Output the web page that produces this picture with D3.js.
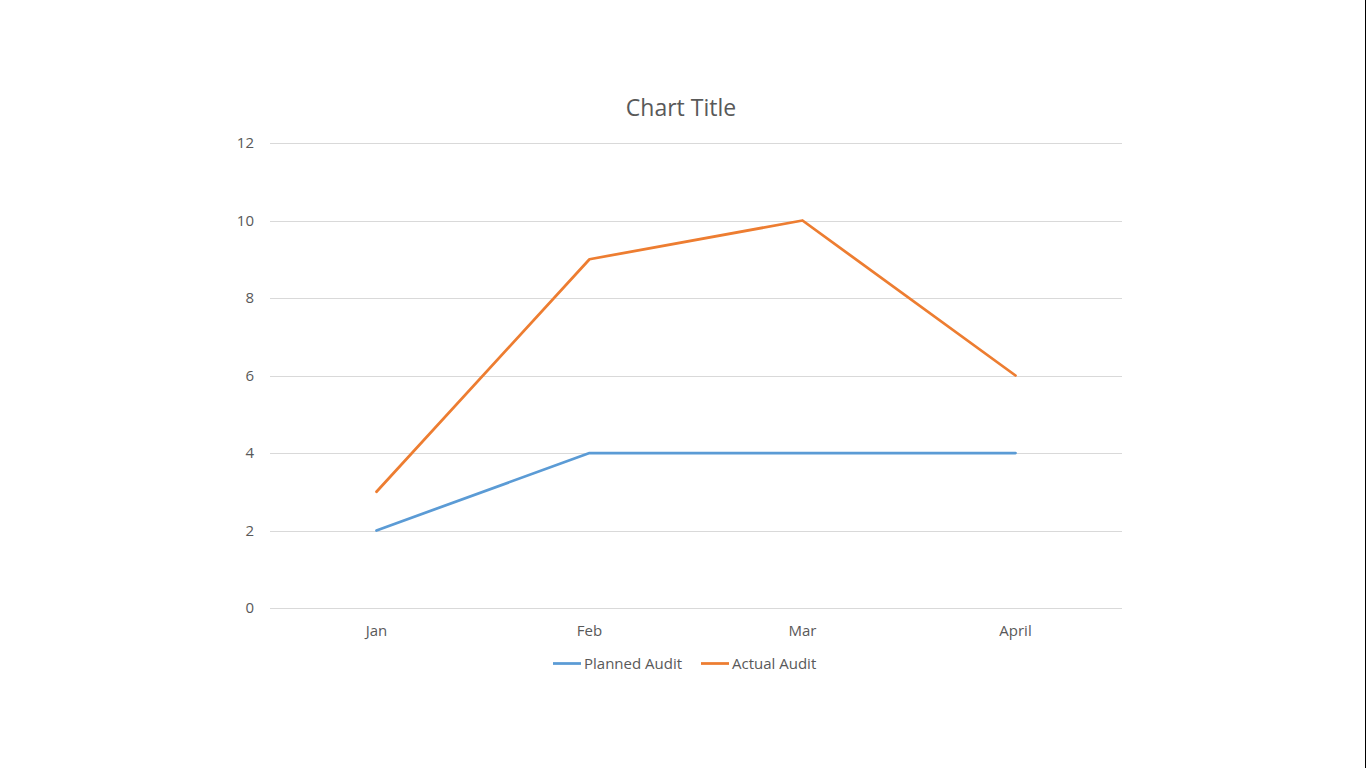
<html>
<head>
<script src="https://d3js.org/d3.v7.min.js"></script>
<style>
body { margin: 0; background: #fff; }
text { font-family: "Open Sans", "Noto Sans", sans-serif; fill: #595959; }
</style>
</head>
<body>
<script>
var months = ["Jan", "Feb", "Mar", "April"];
var planned = [2, 4, 4, 4];
var actual = [3, 9, 10, 6];
var yTicks = [0, 2, 4, 6, 8, 10, 12];

var width = 1366, height = 768;
var plotLeft = 270, plotRight = 1122, plotTop = 143, plotBottom = 608;

var svg = d3.select("body").append("svg")
  .attr("width", width)
  .attr("height", height);

// thin dark edge on the right, as in the screenshot
svg.append("rect").attr("x", 1365).attr("y", 0).attr("width", 1).attr("height", height).attr("fill", "#000");

var x = d3.scaleBand().domain(months).range([plotLeft, plotRight]);
var y = d3.scaleLinear().domain([0, 12]).range([plotBottom, plotTop]);

svg.append("text")
  .attr("x", 681).attr("y", 116)
  .attr("text-anchor", "middle")
  .style("font-size", "23px")
  .text("Chart Title");

// gridlines
svg.append("g").selectAll("line")
  .data(yTicks).enter().append("line")
  .attr("x1", plotLeft).attr("x2", plotRight)
  .attr("y1", function(d) { return Math.round(y(d)) + 0.5; })
  .attr("y2", function(d) { return Math.round(y(d)) + 0.5; })
  .attr("stroke", "#d9d9d9").attr("stroke-width", 1);

// y labels
svg.append("g").selectAll("text")
  .data(yTicks).enter().append("text")
  .attr("x", 254).attr("y", function(d) { return y(d) + 5; })
  .attr("text-anchor", "end")
  .style("font-size", "15px")
  .text(function(d) { return d; });

// x labels
svg.append("g").selectAll("text")
  .data(months).enter().append("text")
  .attr("x", function(d) { return x(d) + x.bandwidth() / 2; })
  .attr("y", 636)
  .attr("text-anchor", "middle")
  .style("font-size", "15px")
  .text(function(d) { return d; });

var line = d3.line()
  .x(function(d, i) { return x(months[i]) + x.bandwidth() / 2; })
  .y(function(d) { return y(d); });

var series = [
  { name: "Planned Audit", values: planned, color: "#5b9bd5" },
  { name: "Actual Audit", values: actual, color: "#ed7d31" }
];

svg.append("g").selectAll("path")
  .data(series).enter().append("path")
  .attr("d", function(d) { return line(d.values); })
  .attr("fill", "none")
  .attr("stroke", function(d) { return d.color; })
  .attr("stroke-width", 2.75)
  .attr("stroke-linejoin", "round")
  .attr("stroke-linecap", "round");

// legend
var legX = [553, 701];
var leg = svg.append("g").selectAll("g")
  .data(series).enter().append("g")
  .attr("transform", function(d, i) { return "translate(" + legX[i] + ",663)"; });
leg.append("line")
  .attr("x1", 0).attr("x2", 28).attr("y1", 0.5).attr("y2", 0.5)
  .attr("stroke", function(d) { return d.color; })
  .attr("stroke-width", 2.75);
leg.append("text")
  .attr("x", 31).attr("y", 5.5)
  .style("font-size", "15px")
  .text(function(d) { return d.name; });
</script>
</body>
</html>
